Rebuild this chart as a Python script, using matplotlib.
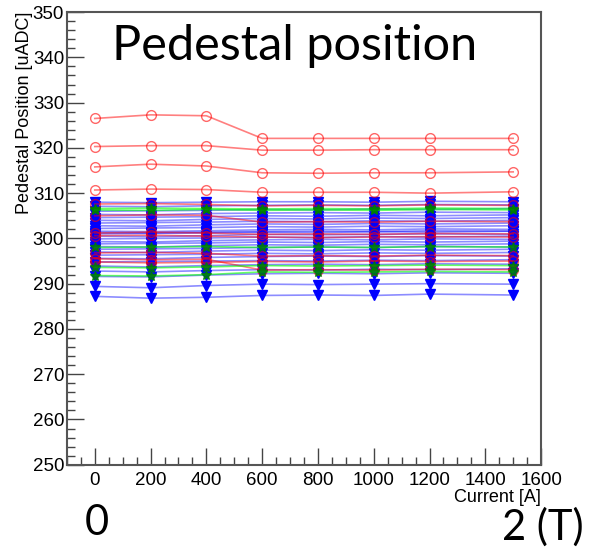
import matplotlib
matplotlib.use('Agg')
import matplotlib.pyplot as plt
from matplotlib.ticker import MultipleLocator

current = [0, 200, 400, 600, 800, 1000, 1200, 1500]

# red, open circles
red = [
    [326.5, 327.3, 327.1, 322.1, 322.1, 322.1, 322.1, 322.1],
    [320.3, 320.5, 320.5, 319.5, 319.5, 319.6, 319.6, 319.6],
    [315.8, 316.4, 316.0, 314.5, 314.4, 314.5, 314.5, 314.7],
    [310.7, 310.9, 310.8, 310.2, 310.2, 310.2, 310.0, 310.3],
    [307.6, 307.7, 307.5, 307.2, 307.3, 307.2, 307.4, 307.3],
    [305.0, 305.2, 305.1, 303.6, 303.7, 303.6, 303.8, 303.7],
    [301.2, 301.4, 301.2, 300.9, 301.0, 300.9, 301.1, 301.0],
    [300.6, 300.7, 300.5, 300.3, 300.2, 300.3, 300.4, 300.3],
    [296.8, 296.9, 296.7, 296.1, 296.2, 296.1, 296.3, 296.2],
    [295.5, 295.3, 295.4, 293.0, 293.1, 293.0, 293.2, 293.1],
    [294.8, 294.6, 294.7, 294.9, 294.8, 295.0, 294.9, 295.0],
]

# green stars
green = [
    [306.6, 306.7, 306.6, 306.5, 306.6, 306.5, 306.7, 306.6],
    [306.3, 306.2, 306.4, 306.2, 306.3, 306.2, 306.4, 306.3],
    [298.0, 298.1, 298.2, 298.0, 298.1, 298.0, 298.2, 298.1],
    [293.6, 293.5, 293.7, 294.0, 293.9, 294.0, 294.1, 294.0],
    [291.8, 291.7, 292.0, 292.6, 292.5, 292.6, 292.7, 292.6],
]

# blue, down triangles
blue = [
    [287.2, 286.8, 287.0, 287.4, 287.5, 287.4, 287.7, 287.5],
    [289.4, 289.1, 289.6, 289.9, 289.8, 289.9, 290.0, 289.9],
    [291.6, 291.5, 291.9, 292.2, 292.3, 292.2, 292.4, 292.3],
    [292.8, 292.6, 292.9, 293.1, 293.0, 293.2, 293.1, 293.3],
    [293.9, 293.7, 294.0, 294.2, 294.3, 294.2, 294.4, 294.3],
    [294.8, 294.9, 295.0, 295.1, 295.0, 295.2, 295.1, 295.3],
    [295.6, 295.5, 295.8, 296.0, 296.1, 296.0, 296.2, 296.1],
    [296.3, 296.4, 296.5, 296.7, 296.6, 296.8, 296.7, 296.9],
    [297.0, 296.9, 297.2, 297.4, 297.3, 297.5, 297.4, 297.6],
    [297.6, 297.7, 297.8, 298.0, 298.1, 298.0, 298.2, 298.1],
    [298.2, 298.1, 298.4, 298.6, 298.5, 298.7, 298.6, 298.8],
    [298.8, 298.9, 299.0, 299.2, 299.1, 299.3, 299.2, 299.4],
    [299.3, 299.2, 299.5, 299.7, 299.8, 299.7, 299.9, 299.8],
    [299.9, 300.0, 300.1, 300.3, 300.2, 300.4, 300.3, 300.5],
    [300.5, 300.4, 300.6, 300.9, 300.8, 300.9, 301.0, 300.9],
    [301.0, 301.1, 301.2, 301.4, 301.3, 301.5, 301.4, 301.6],
    [301.3, 301.2, 301.4, 301.5, 301.6, 301.5, 301.7, 301.6],
    [301.6, 301.5, 301.7, 301.9, 302.0, 301.9, 302.1, 302.0],
    [302.2, 302.3, 302.4, 302.6, 302.5, 302.7, 302.6, 302.8],
    [302.8, 302.7, 303.0, 303.2, 303.1, 303.3, 303.2, 303.4],
    [303.4, 303.5, 303.6, 303.8, 303.7, 303.9, 303.8, 304.0],
    [304.0, 303.9, 304.2, 304.4, 304.3, 304.5, 304.4, 304.6],
    [304.6, 304.7, 304.8, 305.0, 304.9, 305.1, 305.0, 305.2],
    [305.3, 305.2, 305.5, 305.6, 305.7, 305.6, 305.8, 305.7],
    [306.0, 306.1, 306.2, 306.4, 306.3, 306.5, 306.4, 306.6],
    [307.1, 307.0, 307.2, 307.3, 307.4, 307.3, 307.5, 307.4],
    [308.0, 307.9, 308.0, 308.1, 308.1, 308.0, 308.2, 308.1],
]

plt.rcParams['font.family'] = ['Liberation Sans', 'DejaVu Sans']

fig = plt.figure(figsize=(5.92, 5.5), dpi=100)
ax = fig.add_axes([0.113, 0.155, 0.801, 0.823])

for ys in blue:
    ax.plot(current, ys, '-', color='blue', alpha=0.45, lw=1.2)
    ax.plot(current, ys, 'v', color='blue', ms=6.5, mec='blue')
for ys in red:
    ax.plot(current, ys, '-', color='red', alpha=0.5, lw=1.2)
    ax.plot(current, ys, 'o', mfc='none', mec='red', ms=7, mew=1, alpha=0.6)
for ys in green:
    ax.plot(current, ys, '-', color='lime', alpha=0.6, lw=1.2)
    ax.plot(current, ys, '*', color='green', ms=7, alpha=0.8)

ax.set_xlim(-100, 1600)
ax.set_ylim(250, 350)
ax.xaxis.set_major_locator(MultipleLocator(200))
ax.xaxis.set_minor_locator(MultipleLocator(50))
ax.yaxis.set_major_locator(MultipleLocator(10))
ax.yaxis.set_minor_locator(MultipleLocator(2))
ax.tick_params(which='both', direction='in', top=False, right=False,
               labelsize=13.5, color='#444444')
ax.tick_params(axis='x', pad=5)
ax.tick_params(axis='y', pad=2)
ax.tick_params(which='major', length=12, width=1)
ax.tick_params(which='minor', length=6, width=1)
for s in ax.spines.values():
    s.set_color('#555555')
    s.set_linewidth(1.5)

ax.set_xlabel('Current [A]', fontsize=13, loc='right', labelpad=0)
ax.set_ylabel('Pedestal Position [uADC]', fontsize=13, loc='top', labelpad=0)

fig.text(0.19, 0.891, 'Pedestal position', fontsize=35, family='Lato',
         va='baseline')
fig.text(0.1436, 0.027, '0', fontsize=30, family='Lato', va='baseline')
fig.text(0.848, 0.018, '2 (T)', fontsize=30, family='Lato', va='baseline')

plt.savefig('out.png')
